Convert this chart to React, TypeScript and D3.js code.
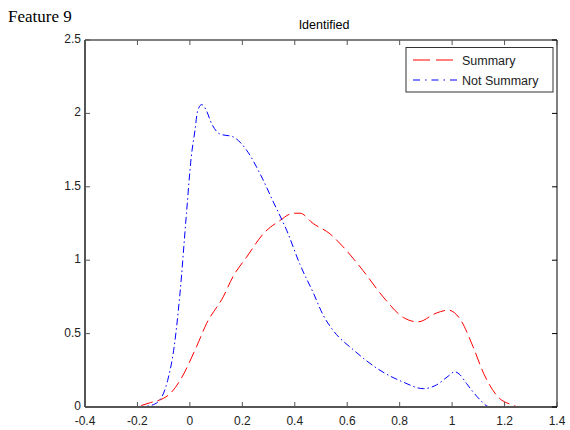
import React, { useEffect, useRef } from 'react';
import * as d3 from 'd3';

// Summary (red dashed)
const summaryX = [-0.25, -0.22, -0.15, -0.1, -0.076, -0.038, 0.025, 0.064, 0.127, 0.165, 0.216, 0.28, 0.343, 0.394, 0.42, 0.47, 0.534, 0.585, 0.66, 0.737, 0.814, 0.87, 0.94, 0.985, 1.03, 1.08, 1.12, 1.18, 1.22, 1.25];
const summaryY = [0, 0.0, 0.03, 0.06, 0.09, 0.18, 0.41, 0.57, 0.75, 0.89, 1.02, 1.18, 1.27, 1.32, 1.32, 1.25, 1.18, 1.09, 0.93, 0.75, 0.61, 0.58, 0.64, 0.66, 0.6, 0.41, 0.23, 0.06, 0.02, 0];

// Not Summary (blue dash-dot)
const notSummaryX = [-0.2, -0.15, -0.114, -0.085, -0.06, -0.038, -0.013, 0.005, 0.019, 0.03, 0.045, 0.06, 0.083, 0.114, 0.165, 0.216, 0.27, 0.32, 0.37, 0.42, 0.47, 0.51, 0.547, 0.623, 0.725, 0.813, 0.89, 0.94, 0.985, 1.01, 1.03, 1.055, 1.106, 1.135, 1.15];
const notSummaryY = [0, 0.01, 0.05, 0.18, 0.41, 0.77, 1.32, 1.7, 1.88, 2.02, 2.06, 2.03, 1.93, 1.86, 1.84, 1.75, 1.58, 1.39, 1.2, 0.97, 0.78, 0.62, 0.52, 0.39, 0.25, 0.17, 0.125, 0.15, 0.21, 0.24, 0.22, 0.16, 0.05, 0.005, 0];

const xTicks = [-0.4, -0.2, 0, 0.2, 0.4, 0.6, 0.8, 1, 1.2, 1.4];
const yTicks = [0, 0.5, 1, 1.5, 2, 2.5];

const series = [
  { name: 'Summary', xs: summaryX, ys: summaryY, color: '#ff0000', dash: '12,5', legendDash: '17,6' },
  { name: 'Not Summary', xs: notSummaryX, ys: notSummaryY, color: '#0000ff', dash: '7,3,1.5,3', legendDash: '7,5,1.5,5' },
];

const App = () => {
  const svgRef = useRef<SVGSVGElement>(null);

  useEffect(() => {
    const svg = d3.select(svgRef.current);
    svg.selectAll('*').remove();

    const left = 85, right = 557, top = 40, bottom = 407;
    const x = d3.scaleLinear().domain([-0.4, 1.4]).range([left, right]);
    const y = d3.scaleLinear().domain([0, 2.5]).range([bottom, top]);
    const font = 'Liberation Sans, Arial, sans-serif';

    svg.append('rect').attr('width', 570).attr('height', 430).attr('fill', '#fff');

    svg.append('text')
      .attr('x', 8).attr('y', 22)
      .attr('font-family', 'Liberation Serif, Times New Roman, serif')
      .attr('font-size', 17)
      .text('Feature 9');

    svg.append('text')
      .attr('x', 324).attr('y', 29)
      .attr('text-anchor', 'middle')
      .attr('font-family', font).attr('font-size', 12.5)
      .text('Identified');

    // curves
    const line = d3.line<[number, number]>()
      .x(d => x(d[0]))
      .y(d => y(d[1]))
      .curve(d3.curveMonotoneX);

    series.forEach(s => {
      const pts = s.xs.map((v, i) => [v, s.ys[i]] as [number, number]);
      svg.append('path')
        .datum(pts)
        .attr('fill', 'none')
        .attr('stroke', s.color)
        .attr('stroke-width', 1)
        .attr('stroke-dasharray', s.dash)
        .attr('d', line);
    });

    // axes box
    const axisCol = '#555';
    svg.append('line').attr('x1', left).attr('x2', right).attr('y1', bottom).attr('y2', bottom)
      .attr('stroke', axisCol).attr('stroke-width', 2);
    svg.append('line').attr('x1', left).attr('x2', left).attr('y1', top).attr('y2', bottom)
      .attr('stroke', axisCol).attr('stroke-width', 2);
    svg.append('line').attr('x1', left).attr('x2', right).attr('y1', top).attr('y2', top)
      .attr('stroke', axisCol).attr('stroke-width', 1.5);
    svg.append('line').attr('x1', right).attr('x2', right).attr('y1', top).attr('y2', bottom)
      .attr('stroke', '#000').attr('stroke-width', 1);

    xTicks.forEach(t => {
      svg.append('line').attr('x1', x(t)).attr('x2', x(t)).attr('y1', bottom).attr('y2', bottom - 5)
        .attr('stroke', axisCol);
      svg.append('line').attr('x1', x(t)).attr('x2', x(t)).attr('y1', top).attr('y2', top + 5)
        .attr('stroke', axisCol);
      svg.append('text')
        .attr('x', x(t)).attr('y', bottom + 18)
        .attr('text-anchor', 'middle')
        .attr('font-family', font).attr('font-size', 12).attr('fill', '#222')
        .text(String(t));
    });

    yTicks.forEach(t => {
      svg.append('line').attr('x1', left).attr('x2', left + 5).attr('y1', y(t)).attr('y2', y(t))
        .attr('stroke', axisCol);
      svg.append('line').attr('x1', right).attr('x2', right - 5).attr('y1', y(t)).attr('y2', y(t))
        .attr('stroke', '#000');
      svg.append('text')
        .attr('x', left - 4).attr('y', y(t) + 3)
        .attr('text-anchor', 'end')
        .attr('font-family', font).attr('font-size', 12).attr('fill', '#222')
        .text(String(t));
    });

    // legend
    const lg = svg.append('g');
    lg.append('rect').attr('x', 406).attr('y', 47.5).attr('width', 147).attr('height', 44.5)
      .attr('fill', '#fff').attr('stroke', '#333').attr('stroke-width', 1);
    series.forEach((s, i) => {
      const ly = 60 + i * 20;
      lg.append('line').attr('x1', 413).attr('x2', 457).attr('y1', ly).attr('y2', ly)
        .attr('stroke', s.color).attr('stroke-dasharray', s.legendDash);
      lg.append('text').attr('x', 462).attr('y', ly + 4.5)
        .attr('font-family', font).attr('font-size', 12.5).attr('fill', '#222')
        .text(s.name);
    });
  }, []);

  return (
    <svg ref={svgRef} width={570} height={430}
      style={{ display: 'block', position: 'fixed', left: 0, top: 0 }} />
  );
};

export default App;
